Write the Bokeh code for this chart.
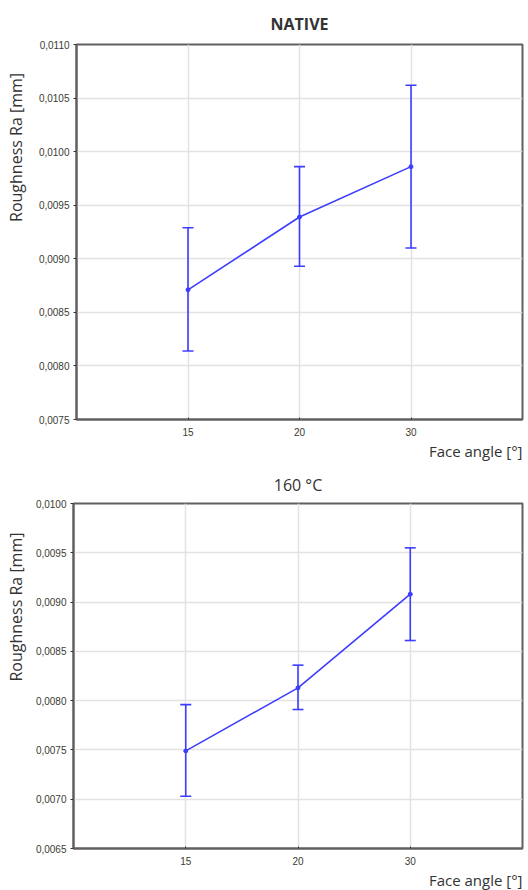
import math
from bokeh.plotting import figure
from bokeh.layouts import column, row
from bokeh.models import (ColumnDataSource, Whisker, TeeHead, FixedTicker,
                          CustomJSTickFormatter, Title, Range1d)
from bokeh.core.properties import value
from bokeh.embed import file_html
from bokeh.resources import INLINE

# Face angle categories (degrees)
angles = ["15", "20", "30"]

# Native sample: mean roughness Ra and interval bounds (mm)
native_mean = [0.00871, 0.00939, 0.00986]
native_lower = [0.00814, 0.00893, 0.00910]
native_upper = [0.00929, 0.00986, 0.01062]

# Sample treated at 160 °C
heat_mean = [0.00749, 0.00813, 0.00908]
heat_lower = [0.00703, 0.00791, 0.00861]
heat_upper = [0.00796, 0.00836, 0.00955]

native_yticks = [0.0075, 0.0080, 0.0085, 0.0090, 0.0095, 0.0100, 0.0105, 0.0110]
heat_yticks = [0.0065, 0.0070, 0.0075, 0.0080, 0.0085, 0.0090, 0.0095, 0.0100]

BLUE = "#3d3dff"
TEXT = "#333333"
TICK_TEXT = "#3b3b33"
LABEL_STRIP = 30   # width of the strip that carries the vertical axis title


def y_title_strip(height, top_end):
    """Narrow blank plot holding the rotated y-axis title."""
    s = figure(width=LABEL_STRIP, height=height, output_backend="svg",
               toolbar_location=None, x_range=Range1d(0, LABEL_STRIP),
               y_range=Range1d(0, height), min_border=0)
    s.axis.visible = False
    s.grid.visible = False
    s.outline_line_color = None
    s.text(x=[15], y=[height - top_end], text=["Roughness Ra [mm]"],
           angle=math.pi / 2, text_align="right", text_baseline="middle",
           text_font=value("Open Sans"), text_font_size="16px",
           text_color=TEXT)
    return s


def make_panel(title, bold, mean, lower, upper, yticks, left, top, fw, fh, bottom,
               height, title_standoff):
    pos = list(range(1, len(angles) + 1))
    src = ColumnDataSource(dict(x=pos, mean=mean, lower=lower, upper=upper))

    p = figure(width=528 - LABEL_STRIP, height=height, frame_width=fw, frame_height=fh,
               output_backend="svg", toolbar_location=None,
               x_range=Range1d(0, len(angles) + 1),
               y_range=Range1d(yticks[0], yticks[-1]),
               min_border_left=left - LABEL_STRIP, min_border_right=6,
               min_border_top=top, min_border_bottom=bottom)
    p.background_fill_color = "white"
    p.border_fill_color = "white"
    p.outline_line_color = "#606060"
    p.outline_line_width = 2

    p.title.text = title
    p.title.align = "center"
    p.title.text_font = "Open Sans"
    p.title.text_font_size = "16px"
    p.title.text_font_style = "bold" if bold else "normal"
    p.title.text_color = TEXT
    p.title.standoff = title_standoff

    # x axis: categorical angles at integer positions
    p.xaxis.ticker = FixedTicker(ticks=pos)
    p.xaxis.major_label_overrides = {i: a for i, a in zip(pos, angles)}
    p.yaxis.ticker = FixedTicker(ticks=yticks)
    p.yaxis.formatter = CustomJSTickFormatter(
        code="return tick.toFixed(4).replace('.', ',');")

    for ax in (p.xaxis[0], p.yaxis[0]):
        ax.major_label_text_font = "Liberation Sans"
        ax.major_label_text_font_size = "10px"
        ax.major_label_text_color = TICK_TEXT
        ax.minor_tick_line_color = None
        ax.major_tick_line_color = "#333333"
        ax.axis_line_color = "#606060"
        ax.axis_line_width = 2
    p.xaxis.major_tick_in = 2
    p.xaxis.major_tick_out = 0
    p.xaxis.major_label_standoff = 8
    p.yaxis.major_tick_in = 0
    p.yaxis.major_tick_out = 3
    p.yaxis.major_label_standoff = 4

    p.grid.grid_line_color = "#e2e2e2"
    p.grid.grid_line_width = 1.5

    p.add_layout(Title(text="Face angle [°]", align="right",
                       text_font="Open Sans", text_font_size="15px",
                       text_font_style="normal", text_color=TEXT,
                       standoff=0), "below")

    p.add_layout(Whisker(source=src, base="x", lower="lower", upper="upper",
                         line_color=BLUE, line_width=1.6,
                         upper_head=TeeHead(size=11, line_color=BLUE, line_width=1.6),
                         lower_head=TeeHead(size=11, line_color=BLUE, line_width=1.6)))
    p.line("x", "mean", source=src, line_color=BLUE, line_width=1.6)
    p.scatter("x", "mean", source=src, size=4, color=BLUE)
    return p


p1 = make_panel("NATIVE", True, native_mean, native_lower, native_upper,
                native_yticks, left=76, top=44, fw=446, fh=375, bottom=43,
                height=462, title_standoff=19)
p2 = make_panel("160 °C", False, heat_mean, heat_lower, heat_upper,
                heat_yticks, left=73, top=41, fw=449, fh=345, bottom=42,
                height=428, title_standoff=16)

layout = column(row(y_title_strip(462, 35), p1, spacing=0),
                row(y_title_strip(428, 36), p2, spacing=0), spacing=0)
open("out.html", "w").write(file_html(layout, INLINE))
